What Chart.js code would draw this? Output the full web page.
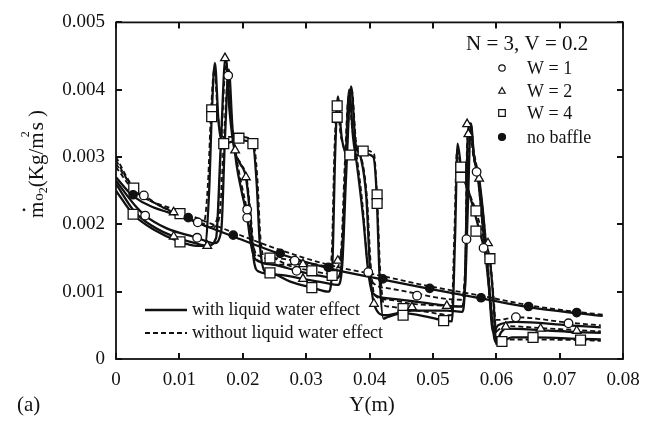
<!DOCTYPE html>
<html><head><meta charset="utf-8">
<script src="https://cdn.jsdelivr.net/npm/chart.js@4.4.1/dist/chart.umd.min.js"></script>
<style>html,body{margin:0;padding:0;background:#fff}#wrap{width:650px;height:421px;position:relative}</style>
</head><body><div id="wrap"><canvas id="c"></canvas></div>
<script>
// ---- axis ticks ----
const xTickValues = [0,0.01,0.02,0.03,0.04,0.05,0.06,0.07,0.08];
const xTickLabels = ['0','0.01','0.02','0.03','0.04','0.05','0.06','0.07','0.08'];
const yTickValues = [0,0.001,0.002,0.003,0.004,0.005];
const yTickLabels = ['0','0.001','0.002','0.003','0.004','0.005'];

// ---- W = 1 ----
const w1SolidX = [0,0.003,0.0046,0.008,0.0128,0.0155,0.0166,0.0172,0.0178,0.0184,0.019,0.0198,0.0207,0.0213,0.022,0.025,0.0285,0.032,0.0348,0.0356,0.0362,0.0368,0.0374,0.038,0.039,0.0398,0.0405,0.043,0.0475,0.0515,0.0545,0.0551,0.0555,0.056,0.0565,0.0571,0.058,0.0588,0.0595,0.0603,0.0631,0.0714,0.0765];
const w1SolidY = [0.00265,0.00228,0.00213,0.00194,0.0018,0.00172,0.0019,0.0033,0.0043,0.0034,0.0029,0.0025,0.0021,0.0017,0.00148,0.0014,0.00131,0.00124,0.0012,0.0014,0.0028,0.0040,0.0033,0.0029,0.0021,0.0013,0.00098,0.0009,0.00085,0.0008,0.00078,0.0011,0.0022,0.0035,0.0030,0.0027,0.00185,0.0011,0.0004,0.0005,0.00055,0.0005,0.00047];
const w1DashX = [0,0.003,0.0044,0.008,0.0129,0.0152,0.0163,0.0171,0.0177,0.0183,0.019,0.0198,0.0207,0.0214,0.0222,0.025,0.0282,0.032,0.0347,0.0355,0.0361,0.0367,0.0373,0.038,0.039,0.0397,0.0404,0.043,0.0475,0.0515,0.0544,0.055,0.0554,0.0559,0.0564,0.057,0.0579,0.0587,0.0594,0.0603,0.0631,0.0714,0.0765];
const w1DashY = [0.0029,0.00252,0.00243,0.00222,0.00203,0.00195,0.0021,0.0034,0.0042,0.0035,0.003,0.0026,0.0022,0.0018,0.00155,0.0015,0.00146,0.0014,0.00135,0.0016,0.0029,0.0039,0.0034,0.003,0.0022,0.0014,0.00115,0.00105,0.00097,0.0009,0.00088,0.0012,0.0023,0.0034,0.0031,0.0028,0.0019,0.0012,0.0006,0.00058,0.00062,0.00054,0.0005];
const w1MarkX = [0.0044,0.0046,0.0129,0.0128,0.0177,0.0207,0.0207,0.0282,0.0285,0.0398,0.0475,0.0553,0.0569,0.058,0.0631,0.0714];
const w1MarkY = [0.00243,0.00213,0.00203,0.0018,0.00421,0.0021,0.00222,0.00146,0.00131,0.00129,0.00094,0.00178,0.00278,0.00165,0.00062,0.00053];

// ---- W = 2 ----
const w2SolidX = [0,0.003,0.006,0.0091,0.0125,0.0144,0.0158,0.0165,0.0173,0.0179,0.0187,0.0196,0.0205,0.0211,0.0217,0.0225,0.0258,0.0295,0.033,0.035,0.0357,0.0363,0.0371,0.0378,0.0386,0.0395,0.0401,0.0407,0.0425,0.0467,0.0522,0.0546,0.0551,0.0555,0.0559,0.0565,0.0573,0.0581,0.0587,0.0593,0.0599,0.0608,0.0615,0.067,0.0727,0.0765];
const w2SolidY = [0.0026,0.00218,0.00196,0.00182,0.00172,0.00168,0.0018,0.0031,0.0045,0.0037,0.0031,0.0029,0.0027,0.0022,0.0015,0.0013,0.00125,0.00119,0.00113,0.0011,0.0014,0.0027,0.00405,0.0032,0.003,0.0024,0.0013,0.00082,0.00065,0.00072,0.00072,0.0007,0.0012,0.0033,0.0035,0.003,0.00268,0.002,0.0013,0.0006,0.00025,0.0004,0.00045,0.00043,0.0004,0.00039];
const w2DashX = [0,0.003,0.006,0.0091,0.0125,0.0147,0.016,0.0166,0.0174,0.018,0.0188,0.0197,0.0206,0.0212,0.0218,0.0227,0.026,0.0295,0.033,0.035,0.0357,0.0363,0.0372,0.0379,0.0387,0.0396,0.0402,0.0408,0.043,0.0467,0.0522,0.0546,0.0551,0.0554,0.0558,0.0564,0.0572,0.058,0.0586,0.0592,0.0598,0.0607,0.0615,0.067,0.0727,0.0765];
const w2DashY = [0.00295,0.0025,0.00232,0.00218,0.00205,0.00196,0.0021,0.0032,0.0044,0.0037,0.0031,0.0029,0.0027,0.0022,0.0016,0.00145,0.0014,0.00141,0.00138,0.00146,0.0017,0.0029,0.004,0.0032,0.003,0.0024,0.0014,0.00095,0.00088,0.00082,0.00079,0.00078,0.0013,0.0032,0.0034,0.003,0.0027,0.0021,0.0015,0.0008,0.0004,0.00046,0.00049,0.00046,0.00043,0.00041];
const w2MarkX = [0.0091,0.0091,0.0144,0.0172,0.0188,0.0205,0.0295,0.0295,0.035,0.0407,0.0467,0.0522,0.0554,0.0556,0.0573,0.0587,0.0615,0.067,0.0727];
const w2MarkY = [0.00218,0.00182,0.00168,0.00447,0.0031,0.0027,0.00141,0.00119,0.00146,0.00082,0.00077,0.00079,0.00349,0.00334,0.00268,0.00172,0.00048,0.00045,0.00042];

// ---- W = 4 ----
const w4SolidX = [0,0.0027,0.006,0.0101,0.0128,0.014,0.0147,0.0151,0.0156,0.0162,0.017,0.0194,0.0216,0.0222,0.0227,0.0235,0.0243,0.0275,0.0309,0.0335,0.0341,0.0346,0.035,0.0356,0.0368,0.039,0.0406,0.0411,0.0416,0.0422,0.0428,0.0453,0.049,0.0517,0.053,0.0535,0.0539,0.0545,0.0556,0.0568,0.0583,0.059,0.0596,0.06,0.0609,0.0625,0.0658,0.0733,0.0765];
const w4SolidY = [0.0025,0.00215,0.00192,0.00174,0.00168,0.00168,0.0025,0.0036,0.0044,0.0035,0.0032,0.00325,0.0032,0.0026,0.0017,0.0013,0.00128,0.00115,0.00106,0.001,0.0013,0.0031,0.0039,0.0033,0.003,0.00305,0.003,0.0025,0.0012,0.0006,0.00062,0.00068,0.00063,0.00057,0.00056,0.0018,0.0032,0.0028,0.0025,0.0021,0.0016,0.00145,0.0008,0.00022,0.00025,0.00032,0.00032,0.0003,0.00029];
const w4DashX = [0,0.0028,0.006,0.0101,0.0128,0.0138,0.0145,0.015,0.0155,0.0161,0.0169,0.0194,0.0216,0.0223,0.0228,0.0236,0.0243,0.0275,0.0309,0.0334,0.034,0.0345,0.0349,0.0355,0.0369,0.039,0.0407,0.0412,0.0417,0.0423,0.043,0.0453,0.049,0.0517,0.0529,0.0534,0.0538,0.0544,0.0556,0.0568,0.0583,0.059,0.0596,0.0601,0.061,0.0625,0.0733,0.0765];
const w4DashY = [0.003,0.00254,0.00232,0.00216,0.00205,0.002,0.0026,0.0037,0.0043,0.0036,0.0033,0.0033,0.00325,0.0027,0.0018,0.0015,0.0015,0.00138,0.00131,0.00127,0.0015,0.0032,0.00375,0.0033,0.00303,0.0031,0.00305,0.0024,0.0013,0.0008,0.00078,0.00075,0.0007,0.00066,0.00065,0.0019,0.0031,0.00285,0.0025,0.0022,0.0017,0.0015,0.0009,0.0003,0.00028,0.00029,0.00028,0.00027];
const w4MarkX = [0.0028,0.0027,0.0101,0.0101,0.0151,0.0151,0.017,0.0194,0.0216,0.0243,0.0243,0.0309,0.0309,0.0341,0.0349,0.0349,0.0369,0.039,0.0412,0.0412,0.0453,0.0453,0.0517,0.0544,0.0544,0.0568,0.0568,0.059,0.0609,0.0658,0.0733];
const w4MarkY = [0.00254,0.00215,0.00216,0.00174,0.0037,0.0036,0.0032,0.00328,0.0032,0.0015,0.00128,0.00131,0.00106,0.00124,0.00376,0.00359,0.00303,0.00309,0.00244,0.00231,0.00075,0.00065,0.00057,0.00285,0.0027,0.0022,0.0019,0.00149,0.00026,0.00032,0.00028];

// ---- no baffle ----
const nbSolidX = [0,0.0027,0.0114,0.0185,0.0259,0.0335,0.0421,0.0495,0.0576,0.0651,0.0727,0.0768];
const nbSolidY = [0.0027,0.00242,0.00208,0.00182,0.00156,0.00135,0.00118,0.00104,0.0009,0.00077,0.00068,0.00064];
const nbDashX = [0,0.0027,0.0114,0.0185,0.0259,0.0335,0.0421,0.0495,0.0576,0.0651,0.0727,0.0768];
const nbDashY = [0.00285,0.00252,0.00215,0.00188,0.00162,0.0014,0.00123,0.00108,0.00094,0.0008,0.0007,0.00066];
const nbMarkX = [0.0027,0.0114,0.0185,0.0259,0.0335,0.0421,0.0495,0.0576,0.0651,0.0727];
const nbMarkY = [0.00244,0.0021,0.00184,0.00157,0.00136,0.00119,0.00105,0.00091,0.00078,0.00069];

const zip = (xs, ys) => xs.map((x, i) => ({x, y: ys[i]}));
const FONT = "'Liberation Serif','Times New Roman',serif";
const INK = '#111';

function lineDs(xs, ys, dashed) {
  return {type:'line', data: zip(xs, ys), borderColor: INK, borderWidth: dashed ? 1.8 : 2.3,
    borderDash: dashed ? [5,3] : [], pointRadius: 0, fill: false,
    cubicInterpolationMode: 'monotone', order: 2};
}
function markDs(xs, ys, style, r, filled) {
  return {type:'scatter', data: zip(xs, ys), showLine: false, pointStyle: style, pointRadius: r,
    pointBackgroundColor: filled ? INK : '#fff', pointBorderColor: INK, pointBorderWidth: 1.3, order: 1};
}

const datasets = [
  lineDs(nbSolidX, nbSolidY, false), lineDs(nbDashX, nbDashY, true),
  lineDs(w1SolidX, w1SolidY, false), lineDs(w1DashX, w1DashY, true),
  lineDs(w2SolidX, w2SolidY, false), lineDs(w2DashX, w2DashY, true),
  lineDs(w4SolidX, w4SolidY, false), lineDs(w4DashX, w4DashY, true),
  markDs(nbMarkX, nbMarkY, 'circle', 4.2, true),
  markDs(w1MarkX, w1MarkY, 'circle', 4.3, false),
  markDs(w2MarkX, w2MarkY, 'triangle', 5, false),
  markDs(w4MarkX, w4MarkY, 'rect', 7, false)
];

function sym(ctx, kind, x, y, s) {
  ctx.save(); ctx.lineWidth = 1.2; ctx.strokeStyle = INK; ctx.fillStyle = '#fff';
  ctx.beginPath();
  if (kind === 'circle' || kind === 'dot') { ctx.arc(x, y, s, 0, Math.PI*2); if (kind==='dot') ctx.fillStyle = INK; }
  else if (kind === 'tri') { ctx.moveTo(x, y - s*1.1); ctx.lineTo(x + s, y + s*0.7); ctx.lineTo(x - s, y + s*0.7); ctx.closePath(); }
  else if (kind === 'sq') { ctx.rect(x - s, y - s, 2*s, 2*s); }
  ctx.fill(); ctx.stroke(); ctx.restore();
}

const decor = {
  id: 'decor',
  afterDatasetsDraw(chart) {
    const {ctx, chartArea: a, scales: {x, y}} = chart;
    ctx.save();
    ctx.strokeStyle = INK; ctx.lineWidth = 1.8;
    ctx.strokeRect(a.left, a.top, a.right - a.left, a.bottom - a.top);
    ctx.lineWidth = 2;
    const L = 6;
    xTickValues.forEach(v => { const px = Math.round(x.getPixelForValue(v));
      ctx.beginPath(); ctx.moveTo(px, a.bottom); ctx.lineTo(px, a.bottom - L); ctx.moveTo(px, a.top); ctx.lineTo(px, a.top + L); ctx.stroke(); });
    yTickValues.forEach(v => { const py = Math.round(y.getPixelForValue(v));
      ctx.beginPath(); ctx.moveTo(a.left, py); ctx.lineTo(a.left + L, py); ctx.moveTo(a.right, py); ctx.lineTo(a.right - L, py); ctx.stroke(); });
    ctx.restore();
  },
  afterDraw(chart) {
    const ctx = chart.ctx;
    ctx.save();
    ctx.fillStyle = INK; ctx.textBaseline = 'middle'; ctx.textAlign = 'left';
    // top-right legend
    ctx.font = '21px ' + FONT;
    ctx.fillText('N = 3, V = 0.2', 466, 44);
    ctx.font = '18px ' + FONT;
    const rows = [['circle', 'W = 1', 68, 3.2], ['tri', 'W = 2', 91, 3.2], ['sq', 'W = 4', 113, 3.3], ['dot', 'no baffle', 137, 3.5]];
    rows.forEach(([k, t, yy, s]) => { sym(ctx, k, 502, yy, s); ctx.fillStyle = INK; ctx.fillText(t, 527, yy + 1); });
    // bottom-left legend
    ctx.strokeStyle = INK; ctx.lineWidth = 2.6;
    ctx.beginPath(); ctx.moveTo(145, 310); ctx.lineTo(187, 310); ctx.stroke();
    ctx.lineWidth = 1.8; ctx.setLineDash([5, 3]);
    ctx.beginPath(); ctx.moveTo(145, 333); ctx.lineTo(187, 333); ctx.stroke();
    ctx.setLineDash([]);
    ctx.fillText('with liquid water effect', 192, 310);
    ctx.fillText('without liquid water effect', 192, 333);
    // x title and panel label
    ctx.font = '21px ' + FONT; ctx.textAlign = 'center';
    ctx.fillText('Y(m)', 372, 405);
    ctx.textAlign = 'left';
    ctx.fillText('(a)', 17, 405);
    // y title (rotated)
    ctx.translate(36, 218); ctx.rotate(-Math.PI/2);
    ctx.textAlign = 'left'; ctx.textBaseline = 'alphabetic';
    let cx = 0;
    ctx.font = '21px ' + FONT; ctx.fillText('m', cx, 7);
    const mw = ctx.measureText('m').width;
    ctx.beginPath(); ctx.arc(cx + mw/2, -12, 1.4, 0, Math.PI*2); ctx.fill();
    cx += mw + 1;
    ctx.font = '15px ' + FONT; ctx.fillText('o', cx, 7); cx += ctx.measureText('o').width;
    ctx.font = '12px ' + FONT; ctx.fillText('2', cx, 11); cx += ctx.measureText('2').width;
    ctx.font = '21px ' + FONT; ctx.fillText('(Kg/m', cx, 7); cx += ctx.measureText('(Kg/m').width;
    ctx.font = '12px ' + FONT; ctx.fillText('2', cx - 5, -7); cx += 2;
    ctx.font = '21px ' + FONT; ctx.fillText('s )', cx, 7);
    ctx.restore();
  }
};

new Chart(document.getElementById('c'), {
  data: {datasets},
  options: {
    responsive: true, maintainAspectRatio: false, animation: false,
    layout: {padding: {left: 0, right: 27, top: 19, bottom: 0}},
    plugins: {legend: {display: false}, tooltip: {enabled: false}},
    scales: {
      x: {type: 'linear', min: 0, max: 0.08,
        afterBuildTicks: s => { s.ticks = xTickValues.map(v => ({value: v})); },
        grid: {display: false, drawTicks: false}, border: {display: false},
        ticks: {padding: 10, color: INK, font: {family: FONT, size: 19}, maxRotation: 0, autoSkip: false,
          callback: (v, i) => xTickLabels[i]},
        afterFit: s => { s.height = 62; }},
      y: {type: 'linear', min: 0, max: 0.005,
        afterBuildTicks: s => { s.ticks = yTickValues.map(v => ({value: v})); },
        grid: {display: false, drawTicks: false}, border: {display: false},
        ticks: {padding: 11, color: INK, font: {family: FONT, size: 19}, autoSkip: false,
          callback: (v, i) => yTickLabels[i]},
        afterFit: s => { s.width = 116; }}
    }
  },
  plugins: [decor]
});
</script>
</body></html>
